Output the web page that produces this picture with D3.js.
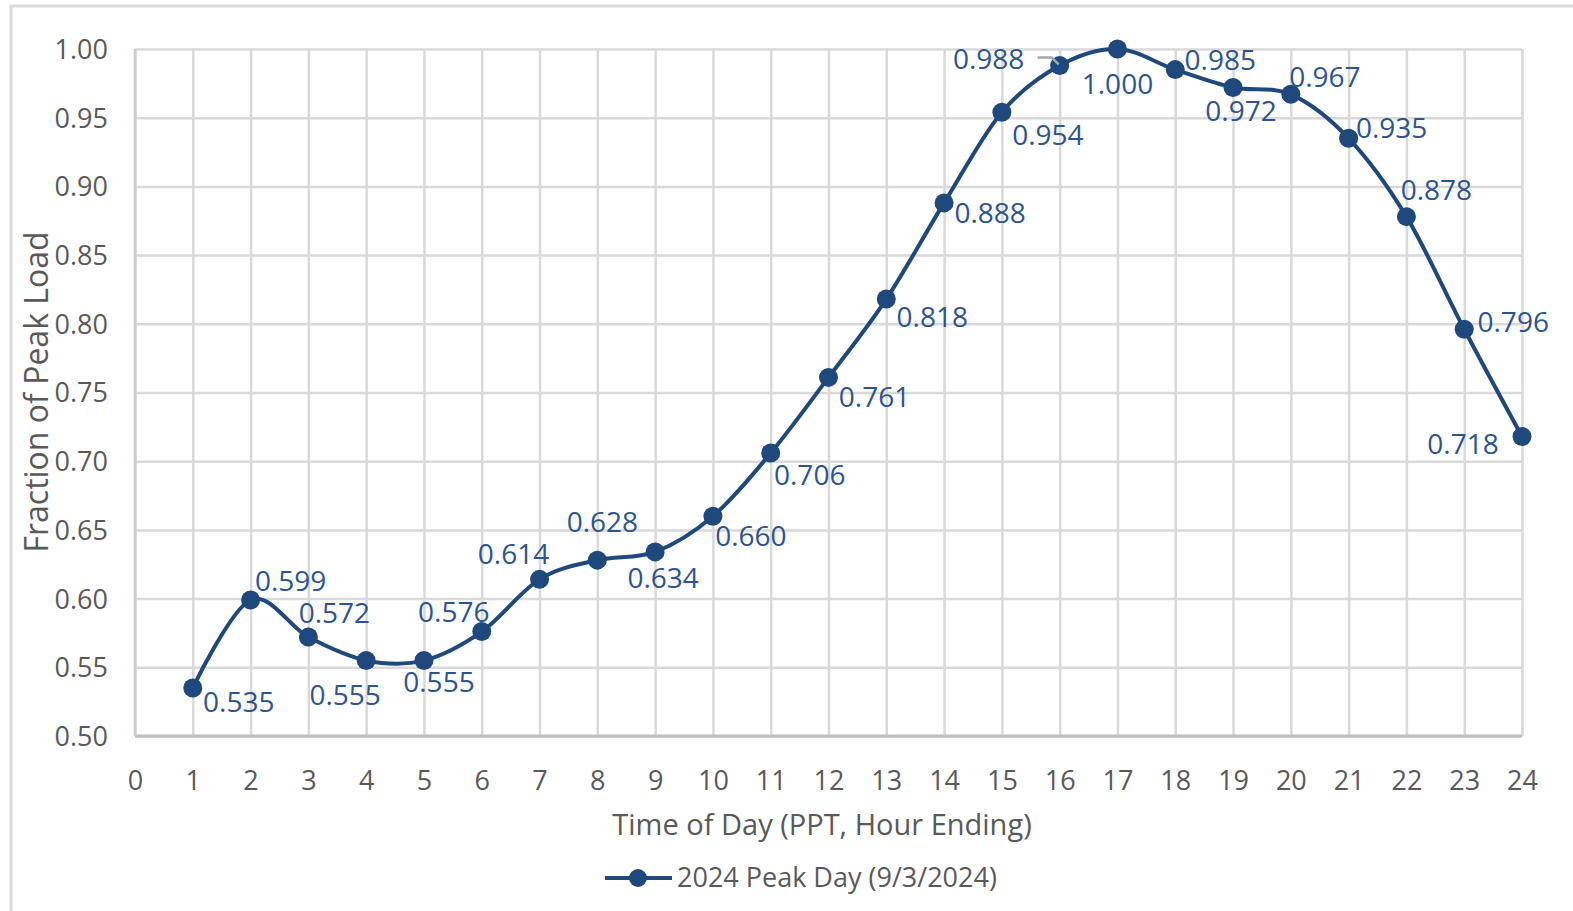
<!DOCTYPE html>
<html>
<head>
<meta charset="utf-8">
<script src="https://cdn.jsdelivr.net/npm/d3@7/dist/d3.min.js"></script>
<style>
  html, body { margin: 0; padding: 0; background: #fff; }
  svg { display: block; font-family: "Open Sans", "Noto Sans", sans-serif; }
</style>
</head>
<body>
<svg id="chart" width="1573" height="911"></svg>
<script>
// Hourly load profile on the 2024 peak day, as a fraction of the daily peak
const hours = [1, 2, 3, 4, 5, 6, 7, 8, 9, 10, 11, 12, 13, 14, 15, 16, 17, 18, 19, 20, 21, 22, 23, 24];
const peakFraction = [0.535, 0.599, 0.572, 0.555, 0.555, 0.576, 0.614, 0.628, 0.634, 0.660, 0.706, 0.761,
                      0.818, 0.888, 0.954, 0.988, 1.000, 0.985, 0.972, 0.967, 0.935, 0.878, 0.796, 0.718];
const xTicks = d3.range(0, 25);
const yTicks = [0.50, 0.55, 0.60, 0.65, 0.70, 0.75, 0.80, 0.85, 0.90, 0.95, 1.00];
const seriesName = "2024 Peak Day (9/3/2024)";
const xTitle = "Time of Day (PPT, Hour Ending)";
const yTitle = "Fraction of Peak Load";

// Where each data label sits, relative to its marker (label centre offset in px)
const labelOffsets = [
  [46, 14], [40, -19], [26, -24], [-21, 35], [15, 22], [-28, -19], [-26, -25], [5, -38],
  [8, 26], [38, 20], [39, 22], [46, 20], [46, 18], [46, 10], [46, 23], [-71, -6],
  [0, 35], [45, -9], [8, 24], [34, -17], [43, -10], [30, -26], [49, -7], [-59, 8]
];

const lineColor = "#1f497d";
const labelColor = "#2c5491";
const axisTextColor = "#595959";
const gridColor = "#d9d9d9";

const svg = d3.select("#chart");

// chart frame (only top and left edges fall inside the page)
svg.append("rect")
  .attr("x", 11).attr("y", 6)
  .attr("width", 1600).attr("height", 950)
  .attr("fill", "none")
  .attr("stroke", "#d9d9d9")
  .attr("stroke-width", 3);

const plotLeft = 135, plotRight = 1522, plotTop = 49, plotBottom = 736;
const x = d3.scaleLinear().domain([0, 24]).range([plotLeft, plotRight]);
const y = d3.scaleLinear().domain([0.5, 1.0]).range([plotBottom, plotTop]);

// gridlines
const xGrid = svg.append("g")
  .attr("transform", `translate(0,${plotBottom})`)
  .call(d3.axisBottom(x).tickValues(xTicks).tickSize(-(plotBottom - plotTop)).tickFormat(""));
xGrid.select(".domain").remove();
xGrid.selectAll("line").attr("stroke", gridColor).attr("stroke-width", 2.5);

const yGrid = svg.append("g")
  .attr("transform", `translate(${plotLeft},0)`)
  .call(d3.axisLeft(y).tickValues(yTicks).tickSize(-(plotRight - plotLeft)).tickFormat(""));
yGrid.select(".domain").remove();
yGrid.selectAll("line").attr("stroke", gridColor).attr("stroke-width", 2.5);

// axis lines
svg.append("line")
  .attr("x1", plotLeft).attr("x2", plotRight).attr("y1", plotBottom).attr("y2", plotBottom)
  .attr("stroke", "#bfbfbf").attr("stroke-width", 3);
svg.append("line")
  .attr("x1", plotLeft).attr("x2", plotLeft).attr("y1", plotTop).attr("y2", plotBottom)
  .attr("stroke", "#cccccc").attr("stroke-width", 2.5);

// tick labels
const xAxis = svg.append("g")
  .attr("transform", `translate(0,${plotBottom})`)
  .call(d3.axisBottom(x).tickValues(xTicks).tickSize(0).tickPadding(0).tickFormat(d3.format("d")));
xAxis.select(".domain").remove();
xAxis.selectAll("text")
  .attr("y", 45).attr("dy", "0.35em")
  .attr("font-family", "Open Sans").attr("font-size", 27)
  .attr("fill", axisTextColor);

const yAxis = svg.append("g")
  .attr("transform", `translate(${plotLeft},0)`)
  .call(d3.axisLeft(y).tickValues(yTicks).tickSize(0).tickPadding(0).tickFormat(d3.format(".2f")));
yAxis.select(".domain").remove();
yAxis.selectAll("text")
  .attr("x", -27).attr("dy", "0.35em")
  .attr("font-family", "Open Sans").attr("font-size", 27)
  .attr("fill", axisTextColor);

// axis titles
svg.append("text")
  .attr("x", 822).attr("y", 825).attr("dy", "0.35em")
  .attr("text-anchor", "middle")
  .attr("font-size", 29).attr("fill", axisTextColor)
  .text(xTitle);

svg.append("text")
  .attr("transform", "translate(48,392) rotate(-90)")
  .attr("text-anchor", "middle")
  .attr("font-size", 32).attr("fill", axisTextColor)
  .text(yTitle);

// smoothed series line
const data = hours.map((h, i) => ({ h, v: peakFraction[i], off: labelOffsets[i] }));
const line = d3.line().x(d => x(d.h)).y(d => y(d.v)).curve(d3.curveCatmullRom.alpha(0));

svg.append("path")
  .datum(data)
  .attr("d", line)
  .attr("fill", "none")
  .attr("stroke", lineColor)
  .attr("stroke-width", 4)
  .attr("stroke-linejoin", "round");

svg.append("g").selectAll("circle")
  .data(data)
  .join("circle")
  .attr("cx", d => x(d.h)).attr("cy", d => y(d.v))
  .attr("r", 9.5)
  .attr("fill", lineColor);

// leader line for the label pulled left of hour 16
const moved = data[15];
const lx = x(moved.h) + moved.off[0] + 37, ly = y(moved.v) + moved.off[1];
svg.append("polyline")
  .attr("points", `${lx + 12},${ly - 2} ${lx + 26},${ly - 2} ${lx + 33},${ly + 5}`)
  .attr("fill", "none").attr("stroke", "#a6a6a6").attr("stroke-width", 2.5);

// data labels
svg.append("g").selectAll("text")
  .data(data)
  .join("text")
  .attr("x", d => x(d.h) + d.off[0])
  .attr("y", d => y(d.v) + d.off[1])
  .attr("dy", "0.35em")
  .attr("text-anchor", "middle")
  .attr("font-size", 28)
  .attr("fill", labelColor)
  .text(d => d3.format(".3f")(d.v));

// legend
const legY = 878, legX = 605;
svg.append("line")
  .attr("x1", legX).attr("x2", legX + 67).attr("y1", legY).attr("y2", legY)
  .attr("stroke", lineColor).attr("stroke-width", 4);
svg.append("circle")
  .attr("cx", legX + 33).attr("cy", legY).attr("r", 9)
  .attr("fill", lineColor);
svg.append("text")
  .attr("x", legX + 72).attr("y", legY).attr("dy", "0.35em")
  .attr("font-size", 27).attr("fill", axisTextColor)
  .text(seriesName);
</script>
</body>
</html>
